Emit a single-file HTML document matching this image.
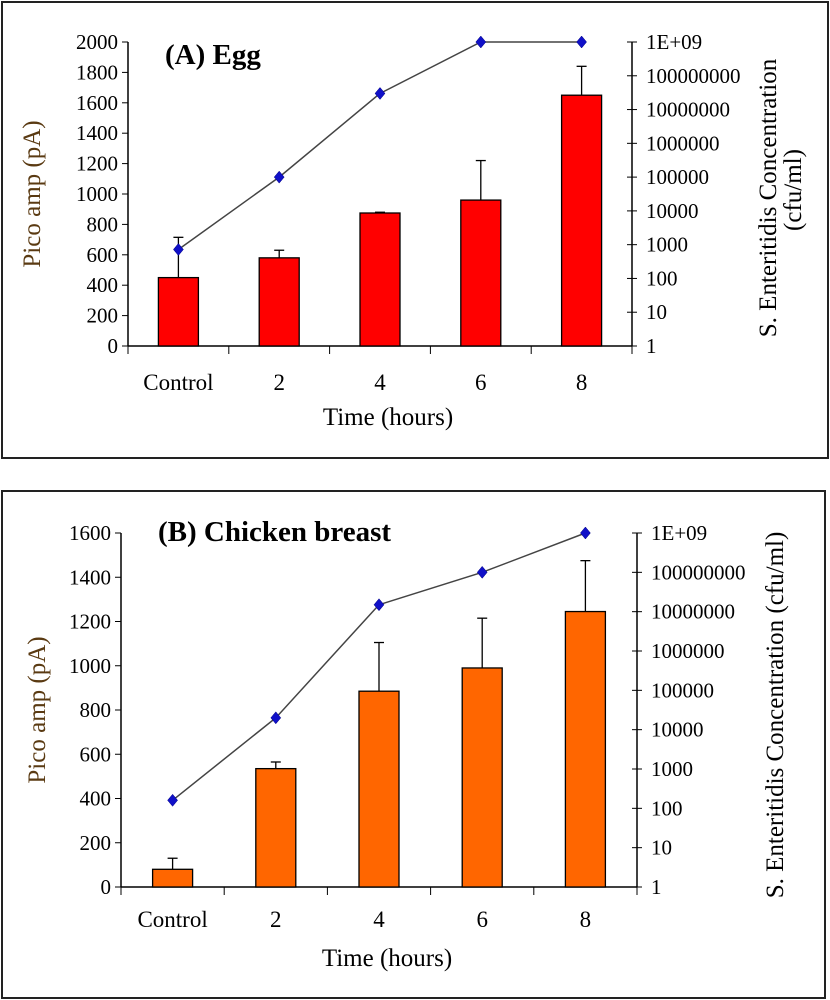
<!DOCTYPE html>
<html><head><meta charset="utf-8"><style>
body{margin:0;background:#fff;width:830px;height:1000px;overflow:hidden}
svg{display:block;font-family:"Liberation Serif",serif}
</style></head><body>
<svg id="s" width="830" height="1000"></svg>
<script>
const categories=["Control","2","4","6","8"];
const eggCurrent=[450,580,875,960,1650];
const eggErrTop=[715,630,880,1220,1840];
const eggConc=[720,1e5,3e7,1e9,1e9];
const chickCurrent=[80,535,885,990,1245];
const chickErrTop=[130,565,1105,1215,1475];
const chickConc=[160,2e4,1.5e7,1e8,1e9];
const eggLeftTicks=[0,200,400,600,800,1000,1200,1400,1600,1800,2000];
const chickLeftTicks=[0,200,400,600,800,1000,1200,1400,1600];
const rightTickLabels=["1","10","100","1000","10000","100000","1000000","10000000","100000000","1E+09"];
const NS="http://www.w3.org/2000/svg";
const svg=document.getElementById('s');
function el(t,a,p,txt){const e=document.createElementNS(NS,t);for(const k in a)e.setAttribute(k,a[k]);if(txt!==undefined)e.textContent=txt;(p||svg).appendChild(e);return e;}
function panel(o){
 const g=el('g',{});
 
 
 const fr=el('rect',{x:o.fr[0],y:o.fr[1],width:o.fr[2],height:o.fr[3],fill:'none',stroke:'#222','stroke-width':2},g);
 
 const L=o.L,R=o.R,Y0=o.Y0,Y1=o.Y1;
 const yL=v=>Y0-(v/o.max)*(Y0-Y1);
 const yR=v=>Y0-(Math.log10(v)/9)*(Y0-Y1);
 const n=categories.length,bw=(R-L)/n;
 const xc=i=>L+bw*(i+0.5);
 let a=el('line',{x1:L,y1:Y1,x2:L,y2:Y0,stroke:'#000','stroke-width':1.5},g);
 a=el('line',{x1:R,y1:Y1,x2:R,y2:Y0,stroke:'#000','stroke-width':1.5},g);
 a=el('line',{x1:L,y1:Y0,x2:R,y2:Y0,stroke:'#000','stroke-width':1.5},g);
 o.ticks.forEach(v=>{const y=yL(v);el('line',{x1:L-6,y1:y,x2:L,y2:y,stroke:'#000'},g);
  const t=el('text',{x:L-10,y:y+7,'text-anchor':'end','font-size':21,'textLength':(String(v).length*10.5),'lengthAdjust':'spacingAndGlyphs'},g,v);});
 rightTickLabels.forEach((s,i)=>{const y=yR(Math.pow(10,i));el('line',{x1:R-5,y1:y,x2:R+5,y2:y,stroke:'#000'},g);
  const t=el('text',{x:R+14,y:y+7,'font-size':21},g,s);});
 for(let i=0;i<=n;i++){el('line',{x1:L+bw*i,y1:Y0,x2:L+bw*i,y2:Y0+8,stroke:'#000'},g);}
 categories.forEach((c,i)=>{const t=el('text',{x:xc(i),y:o.xlY,'text-anchor':'middle','font-size':23},g,c);});
 o.cur.forEach((v,i)=>{const x=xc(i)-20;
  const e=el('line',{x1:xc(i),y1:yL(o.err[i]),x2:xc(i),y2:yL(v),stroke:'#000','stroke-width':1.3},g);
  el('line',{x1:xc(i)-5,y1:yL(o.err[i]),x2:xc(i)+5,y2:yL(o.err[i]),stroke:'#000','stroke-width':1.3},g);
  const b=el('rect',{x:x,y:yL(v),width:40,height:Y0-yL(v),fill:o.color,stroke:'#000','stroke-width':1.3},g);});
 const pl=el('polyline',{points:o.conc.map((v,i)=>xc(i)+','+yR(v)).join(' '),fill:'none',stroke:'#444','stroke-width':1.5},g);
 o.conc.forEach((v,i)=>{const x=xc(i),y=yR(v);const m=el('polygon',{points:`${x},${y-6} ${x+5},${y} ${x},${y+6} ${x-5},${y}`,fill:'#1010c8',stroke:'#000080','stroke-width':0.5},g);});
 let t=el('text',{x:o.title[0],y:o.title[1],'font-size':29,'font-weight':'bold'},g,o.titleText);
 t=el('text',{x:(L+R)/2+8,y:o.xtY,'text-anchor':'middle','font-size':25},g,'Time (hours)');
 const ly=(Y0+Y1)/2;
 t=el('text',{x:0,y:0,'text-anchor':'middle','font-size':25,fill:'#5a3a12',transform:`translate(${o.lx},${ly}) rotate(-90)`},g,'Pico amp (pA)');
 o.rt.forEach(r=>{t=el('text',{x:0,y:0,'text-anchor':'middle','font-size':25,transform:`translate(${r[0]},${r[2]}) rotate(-90)`},g,r[1]);});
}
panel({name:'panel-egg',fr:[2,2,826,456],L:128,R:632,Y0:346,Y1:42,max:2000,ticks:eggLeftTicks,cur:eggCurrent,err:eggErrTop,conc:eggConc,color:'#ff0000',xlY:390,xtY:425,title:[165,64],titleText:'(A) Egg',lx:40,rt:[[776,'S. Enteritidis Concentration',198],[801,'(cfu/ml)',190]]});
panel({name:'panel-chicken',fr:[2,491,823,507],L:121,R:637,Y0:887,Y1:533,max:1600,ticks:chickLeftTicks,cur:chickCurrent,err:chickErrTop,conc:chickConc,color:'#ff6600',xlY:927,xtY:966,title:[158,541],titleText:'(B)  Chicken breast',lx:45,rt:[[783,'S. Enteritidis Concentration (cfu/ml)',715]]});
</script>
</body></html>
